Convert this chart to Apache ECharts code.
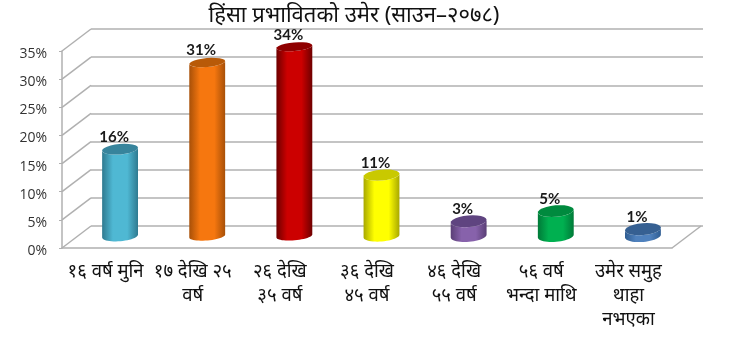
<!DOCTYPE html>
<html>
<head>
<meta charset="utf-8">
<style>
    html, body { margin: 0; padding: 0; background: #fff; }
    #chart { width: 729px; height: 359px; }
</style>
<script src="https://cdn.jsdelivr.net/npm/echarts@6/dist/echarts.min.js"></script>
</head>
<body>
<div id="chart"></div>
<script>
const titleText = "हिंसा प्रभावितको उमेर (साउन–२०७८)";
const categories = [
    "१६ वर्ष मुनि", "१७ देखि २५\nवर्ष", "२६ देखि\n३५ वर्ष", "३६ देखि\n४५ वर्ष",
    "४६ देखि\n५५ वर्ष", "५६ वर्ष\nभन्दा माथि", "उमेर समुह\nथाहा\nनभएका",
];
const values = [15.6, 31, 33.8, 11, 2.8, 4.6, 1.4];
const yTicks = [0, 5, 10, 15, 20, 25, 30, 35];

// edge, middle, top cap
const barColors = [
    ["#2f7a90", "#4fb8d3", "#37849c"],
    ["#a85008", "#f6770f", "#b85a08"],
    ["#6e0000", "#cc0000", "#8f0000"],
    ["#a8a800", "#ffff00", "#c9c900"],
    ["#5a3f76", "#8762ab", "#5f4480"],
    ["#007a38", "#00b050", "#008a3e"],
    ["#2f5d92", "#4f81bd", "#366092"],
];

const gridColor = "#b0b0b0";
const depthX = 29; // back wall offset
const depthY = 22;
const barHalf = 18;

// half of a tilted ellipse as polygon points
function arcPoints(cx, cy, ry, from, to) {
    const tilt = -5 * Math.PI / 180;
    const pts = [];
    for (let i = 0; i <= 24; i++) {
        const a = from + (to - from) * i / 24;
        const x = barHalf * Math.cos(a);
        const y = ry * Math.sin(a);
        pts.push([
            cx + x * Math.cos(tilt) - y * Math.sin(tilt),
            cy + x * Math.sin(tilt) + y * Math.cos(tilt),
        ]);
    }
    return pts;
}

function renderCylinder(params, api) {
    const idx = params.dataIndex;
    const val = api.value(1);
    const top = api.coord([idx, val]);
    const base = api.coord([idx, 0]);
    const cx = top[0] + depthX / 2;
    const topY = top[1] - depthY / 2;
    const baseY = base[1] - depthY / 2 - 1;
    const ry = 6 - val * 0.05;
    const colors = barColors[idx];
    const side = arcPoints(cx, baseY, ry, 0, Math.PI).concat(arcPoints(cx, topY, ry, Math.PI, 0));
    return {
        type: "group",
        children: [
            {
                type: "polygon",
                shape: { points: side },
                style: {
                    fill: new echarts.graphic.LinearGradient(0, 0, 1, 0, [
                        { offset: 0, color: colors[0] },
                        { offset: 0.3, color: colors[1] },
                        { offset: 0.7, color: colors[1] },
                        { offset: 1, color: colors[0] },
                    ]),
                },
            },
            {
                type: "polygon",
                shape: { points: arcPoints(cx, topY, ry, 0, Math.PI * 2) },
                style: { fill: colors[2] },
            },
            {
                type: "text",
                x: cx - 6,
                y: topY - 12,
                style: {
                    text: Math.round(val) + "%",
                    fill: "#1a1a1a",
                    font: "bold 15px Lato, 'Open Sans', sans-serif",
                    align: "center",
                    verticalAlign: "middle",
                },
            },
        ],
    };
}

// left wall diagonals, plus the floor's right edge at zero
function renderWall(params, api) {
    const sys = params.coordSys;
    const y = api.coord([0, api.value(1)])[1];
    const lineStyle = { stroke: gridColor, lineWidth: 1.5 };
    const children = [{
        type: "line",
        shape: { x1: sys.x, y1: y, x2: sys.x + depthX, y2: y - depthY },
        style: lineStyle,
    }];
    if (api.value(1) === 0) {
        const right = sys.x + sys.width;
        children.push({
            type: "line",
            shape: { x1: right, y1: y, x2: right + depthX, y2: y - depthY },
            style: lineStyle,
        });
    }
    return { type: "group", children };
}

const option = {
    backgroundColor: "#fff",
    animation: false,
    title: {
        text: titleText,
        left: 349,
        top: 0,
        textAlign: "center",
        textStyle: { color: "#111", fontSize: 22, fontWeight: "normal", fontFamily: "'Noto Sans', 'DejaVu Sans', sans-serif" },
    },
    grid: [
        { left: 62, right: 57, top: 51, bottom: 111 },
        { left: 91, right: 26, top: 29, bottom: 133 },
    ],
    xAxis: [
        {
            type: "category",
            gridIndex: 0,
            data: categories,
            axisLine: { lineStyle: { color: gridColor, width: 1.5 } },
            axisTick: { length: 6, lineStyle: { color: gridColor } },
            axisLabel: {
                interval: 0,
                margin: 12,
                color: "#111",
                fontSize: 18.5,
                lineHeight: 24,
                fontFamily: "'Noto Sans', 'DejaVu Sans', sans-serif",
            },
        },
        {
            type: "category",
            gridIndex: 1,
            data: categories,
            axisLine: { show: false },
            axisTick: { show: false },
            axisLabel: { show: false },
        },
    ],
    yAxis: [
        {
            type: "value",
            gridIndex: 0,
            min: 0,
            max: 35,
            interval: 5,
            splitLine: { show: false },
            axisLine: { show: true, lineStyle: { color: gridColor, width: 1.5 } },
            axisTick: { show: true, length: 3, lineStyle: { color: gridColor } },
            axisLabel: {
                margin: 15,
                formatter: "{v|{value}%}",
                rich: {
                    v: {
                        color: "#333",
                        fontSize: 14,
                        padding: [6, 0, 0, 0],
                        fontFamily: "'Open Sans', sans-serif",
                    },
                },
            },
        },
        {
            type: "value",
            gridIndex: 1,
            min: 0,
            max: 35,
            interval: 5,
            splitLine: { lineStyle: { color: gridColor, width: 1.5 } },
            axisLine: { show: false },
            axisTick: { show: false },
            axisLabel: { show: false },
        },
    ],
    series: [
        {
            type: "custom",
            xAxisIndex: 0,
            yAxisIndex: 0,
            clip: false,
            z: 1,
            renderItem: renderWall,
            data: yTicks.map((v) => [0, v]),
        },
        {
            type: "custom",
            xAxisIndex: 0,
            yAxisIndex: 0,
            clip: false,
            z: 3,
            renderItem: renderCylinder,
            encode: { x: 0, y: 1 },
            data: values.map((v, i) => [i, v]),
        },
    ],
};

const chart = echarts.init(document.getElementById("chart"), null, { renderer: "canvas" });
chart.setOption(option);
</script>
</body>
</html>
